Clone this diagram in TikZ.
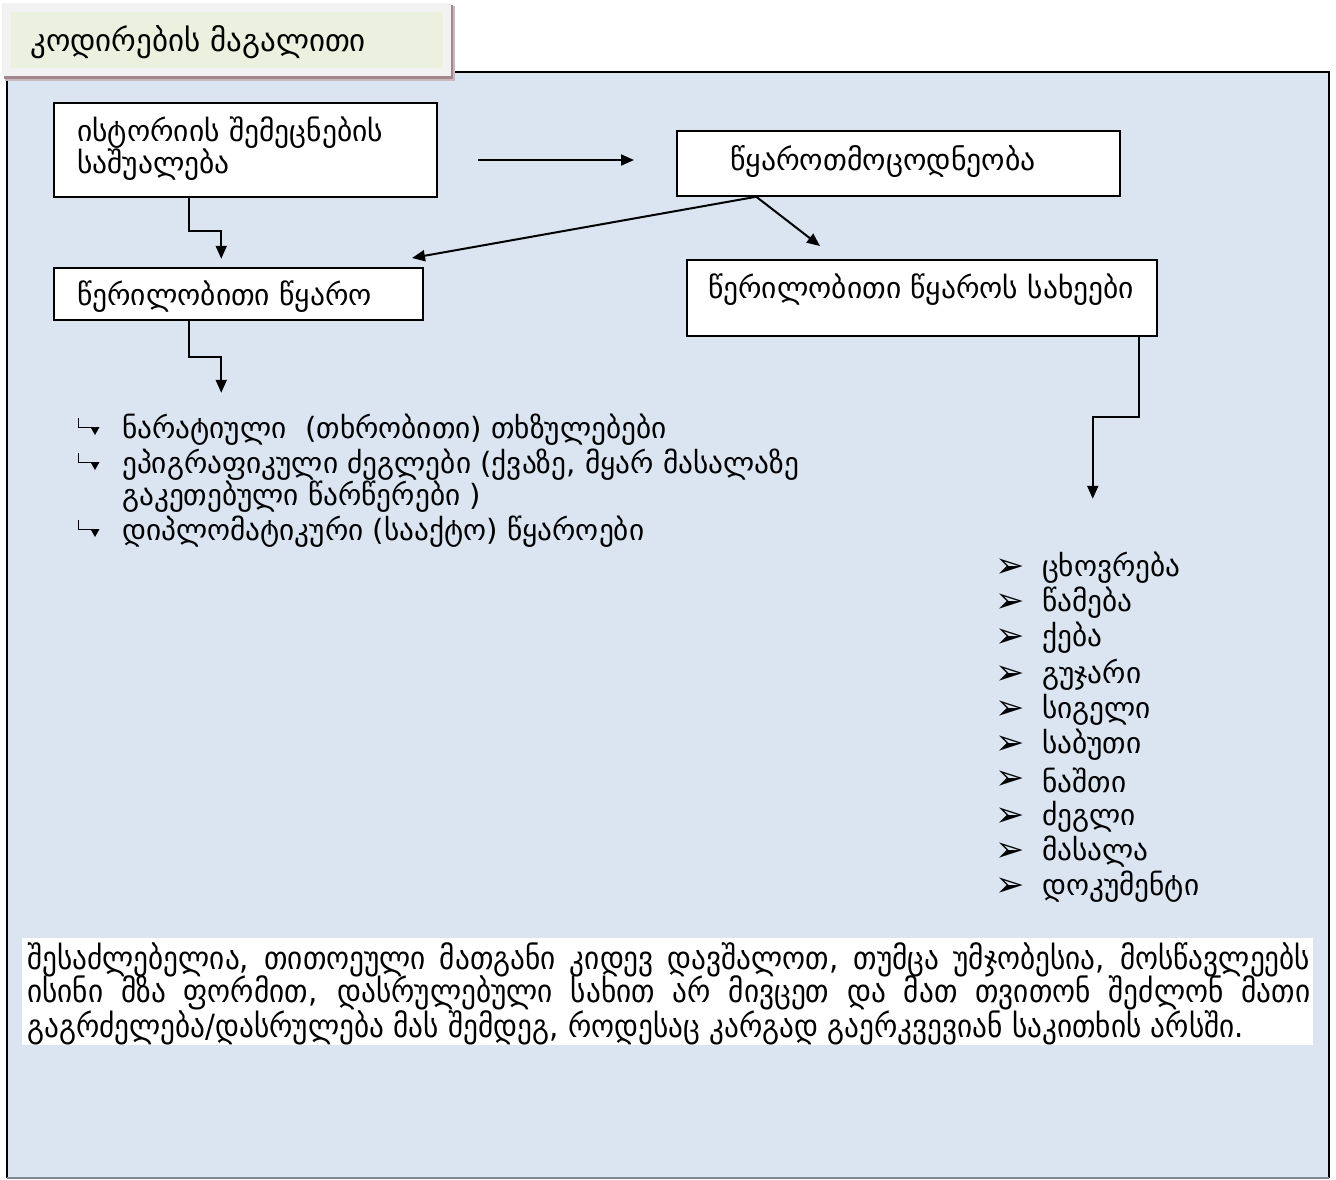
\documentclass[tikz,border=0pt]{standalone}
\usepackage{fontspec}
\setmainfont{DejaVu Sans}
\newfontfamily\parafont[FakeStretch=0.915]{DejaVu Sans}
\usetikzlibrary{arrows.meta,calc}
\definecolor{framebg}{HTML}{DBE5F1}
\definecolor{titlegreen}{HTML}{EBF1DE}
\definecolor{titlegray}{HTML}{F2F2F2}
\definecolor{shadowc}{HTML}{A3878D}
\definecolor{shadowl}{HTML}{CBB7BC}
\definecolor{bottomgray}{HTML}{7F8790}
\begin{document}
\begin{tikzpicture}[x=1pt,y=-1pt,
  box/.style={draw=black,line width=1.5pt,fill=white,inner sep=0pt},
  lbl/.style={anchor=west,inner sep=0pt,font=\fontsize{29.5}{32}\selectfont},
  lst/.style={anchor=west,inner sep=0pt,font=\fontsize{29.3}{32}\selectfont},
  para/.style={anchor=west,inner sep=0pt,font=\parafont\fontsize{32}{34}\selectfont},
  arr/.style={line width=2pt,-{Triangle[length=13pt,width=11pt]}},
  bulletline/.style={line width=1pt}]
\useasboundingbox (0,0) rectangle (1336,1179);
% main frame
\fill[framebg] (7,72) rectangle (1329,1178);
\draw[line width=2.5pt] (7,1178) -- (7,72) -- (1329,72) -- (1329,1178);
\draw[bottomgray,line width=2pt] (7,1178) -- (1329,1178);
% title tab
\fill[shadowl] (5,6) rectangle (455,81);
\fill[shadowc] (4,5) rectangle (453,79);
\fill[titlegray] (2,3) rectangle (451,76);
\fill[titlegreen] (11,12) rectangle (443,68);
\node[lbl,font=\fontsize{31}{32}\selectfont] (title) at (30,42) {კოდირების მაგალითი};
% boxes
\node[box,minimum width=383pt,minimum height=94pt] (box1) at (245.5,150) {};
\node[box,minimum width=443pt,minimum height=65pt] (box4) at (898.5,163.5) {};
\node[box,minimum width=369pt,minimum height=52pt] (box2) at (238.5,294) {};
\node[box,minimum width=470pt,minimum height=76pt] (box3) at (922,298) {};
\node[lbl,align=left] (t1) at (77,149) {ისტორიის შემეცნების\\საშუალება};
\node[lbl,font=\fontsize{29.8}{32}\selectfont] (t4) at (730,162) {წყაროთმოცოდნეობა};
\node[lbl] (t2) at (77,297) {წერილობითი წყარო};
\node[lbl] (t3) at (708,290) {წერილობითი წყაროს სახეები};
% connectors
\coordinate (h1) at (478,160);
\coordinate (h2) at (634,160);
\draw[arr] (h1) -- (h2);
\draw[arr] ($(box1.south west)+(136,0)$) -- ++(0,33) -- ++(32,0) -- ++(0,28);
\draw[arr] ($(box4.south west)+(80,0)$) -- (412,258);
\draw[arr] ($(box4.south west)+(80,0)$) -- (820,246);
\draw[arr] ($(box2.south west)+(136,0)$) -- ++(0,36) -- ++(32,0) -- ++(0,36);
\draw[arr] ($(box3.south east)+(-19,0)$) -- ++(0,80) -- ++(-46,0) -- ++(0,82);
% left list
\foreach \yy in {430,465,532}{
  \draw[bulletline] (78,\yy-12) -- (78,\yy-3) -- (95,\yy-3);
  \fill (90.5,\yy-3) -- (99.5,\yy-3) -- (95,\yy+5) -- cycle;
}
\node[lst] (l1) at (122,430) {ნარატიული~~(თხრობითი) თხზულებები};
\node[lst] (l2) at (122,465) {ეპიგრაფიკული ძეგლები (ქვაზე, მყარ მასალაზე};
\node[lst] (l3) at (122,497) {გაკეთებული წარწერები )};
\node[lst] (l4) at (122,532) {დიპლომატიკური (სააქტო) წყაროები};
% right list
\foreach \yy/\tt [count=\i] in {568/ცხოვრება,603/წამება,638/ქება,675/გუჯარი,710/სიგელი,745/საბუთი,780/ნაშთი,817/ძეგლი,852/მასალა,887/დოკუმენტი}{
  \node[lst,font=\fontsize{35}{36}\selectfont] (rb\i) at (995,\yy) {➢};
  \node[lst] (r\i) at (1042,\yy) {\tt};
}
% paragraph
\fill[white] (22,938) rectangle (1313,1045);
\node[para] (p1) at (27,960) {\makebox[1283pt][s]{შესაძლებელია, თითოეული მათგანი კიდევ დავშალოთ, თუმცა უმჯობესია, მოსწავლეებს}};
\node[para] (p2) at (27,993) {\makebox[1283pt][s]{ისინი მზა ფორმით, დასრულებული სახით არ მივცეთ და მათ თვითონ შეძლონ მათი}};
\node[para] (p3) at (27,1028) {გაგრძელება/დასრულება მას შემდეგ, როდესაც კარგად გაერკვევიან საკითხის არსში.};
\end{tikzpicture}
\end{document}
